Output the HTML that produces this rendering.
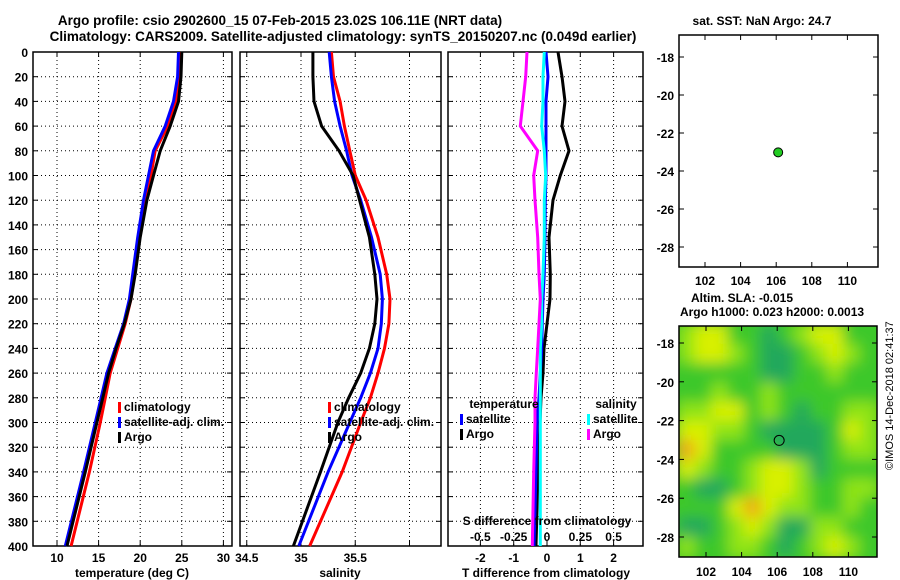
<!DOCTYPE html>
<html><head><meta charset="utf-8"><style>
body{margin:0;background:#fff}
svg{display:block;font-family:"Liberation Sans",sans-serif;font-weight:bold}
</style></head><body>
<svg id="c" width="900" height="580" viewBox="0 0 900 580">
<defs><filter id="bl" x="0" y="0" width="100%" height="100%"><feGaussianBlur stdDeviation="7"/></filter>
<clipPath id="mc"><rect x="679" y="326" width="198" height="231"/></clipPath></defs>
<text x="280" y="25" font-size="13.5" text-anchor="middle">Argo profile: csio 2902600_15 07-Feb-2015 23.02S 106.11E (NRT data)</text>
<text x="343" y="41" font-size="13.5" text-anchor="middle">Climatology: CARS2009. Satellite-adjusted climatology: synTS_20150207.nc (0.049d earlier)</text>
<text x="762" y="25" font-size="12" text-anchor="middle">sat. SST: NaN Argo: 24.7</text>
<text x="742" y="302" font-size="12" text-anchor="middle">Altim. SLA: -0.015</text>
<text x="772" y="316" font-size="12" text-anchor="middle">Argo h1000: 0.023 h2000: 0.0013</text>
<text transform="translate(893,470) rotate(-90)" font-size="11" font-weight="normal">©IMOS 14-Dec-2018 02:41:37</text>
<g id="g"></g>
</svg>
<script>
const depths=[0,20,40,60,80,100,120,150,180,200,220,240,260,280,300,340,400];
const tempClim=[24.8,24.7,24.3,23.3,21.8,21.3,20.6,19.9,19.3,18.9,18.2,17.3,16.4,15.8,15.2,13.9,11.7];
const tempSat=[24.6,24.5,24.0,23.0,21.6,21.0,20.4,19.7,19.1,18.7,18.0,17.0,16.0,15.3,14.6,13.2,11.0];
const tempArgo=[25.0,24.9,24.6,23.6,22.4,21.6,20.8,20.0,19.4,18.9,18.1,17.1,16.2,15.5,14.8,13.4,11.2];
const salClim=[35.28,35.30,35.36,35.40,35.45,35.50,35.60,35.71,35.79,35.82,35.81,35.77,35.71,35.64,35.55,35.38,35.08];
const salSat=[35.26,35.28,35.31,35.36,35.42,35.47,35.55,35.65,35.73,35.75,35.74,35.71,35.64,35.55,35.45,35.25,34.98];
const salArgo=[35.11,35.11,35.12,35.19,35.35,35.48,35.54,35.63,35.68,35.70,35.68,35.63,35.55,35.44,35.34,35.18,34.93];
const tdiffArgo=[0.33,0.45,0.54,0.45,0.66,0.40,0.18,0.06,0.10,0.09,0.0,-0.09,-0.12,-0.18,-0.21,-0.27,-0.33];
const tdiffSat=[-0.03,0.03,-0.03,-0.03,-0.03,-0.03,-0.05,-0.06,-0.08,-0.12,-0.14,-0.16,-0.2,-0.24,-0.3,-0.33,-0.39];
const sdiffArgo=[-0.15,-0.16,-0.18,-0.2,-0.07,-0.10,-0.09,-0.07,-0.06,-0.05,-0.06,-0.07,-0.08,-0.09,-0.09,-0.10,-0.11];
const sdiffSat=[-0.02,-0.03,-0.03,-0.04,-0.02,-0.01,-0.02,-0.02,-0.03,-0.04,-0.04,-0.05,-0.05,-0.05,-0.05,-0.05,-0.05];
const depthTicks=[0,20,40,60,80,100,120,140,160,180,200,220,240,260,280,300,320,340,360,380,400];
const tempTicks=[10,15,20,25,30];
const salTicks=["34.5","35","35.5","36"];
const tdTicks=[-2,-1,0,1,2];
const sdTickLabels=["-0.5","-0.25","0","0.25","0.5"];
const lonTicks=[102,104,106,108,110];
const latTicks=[-18,-20,-22,-24,-26,-28];
const argoLon=106.11, argoLat=-23.02;
const slaGrid=[
[2,3,3,1,1,0,1,2,3,3,1,1],
[2,3,3,2,1,0,0,1,2,3,2,1],
[1,1,1,1,1,0,0,1,1,2,1,1],
[1,1,2,1,1,2,1,1,1,1,1,1],
[2,2,3,3,1,2,1,0,1,1,2,2],
[3,3,2,2,1,0,0,0,0,1,3,2],
[4,3,1,1,1,1,0,0,0,1,2,2],
[3,2,1,1,2,3,3,2,0,1,1,1],
[1,0,0,1,2,3,3,2,1,1,2,2],
[1,1,1,3,4,3,2,2,1,1,2,1],
[0,0,1,2,3,2,0,0,2,2,1,1],
[2,1,1,2,2,1,0,1,2,3,2,1]];
const slaColors=["#22a85c","#3cc82c","#90e414","#d8f000","#f0a818"];

const NS="http://www.w3.org/2000/svg", G=document.getElementById('g');
function el(t,a,p){const e=document.createElementNS(NS,t);for(const k in a)e.setAttribute(k,a[k]);(p||G).appendChild(e);return e;}
function txt(x,y,s,sz,anc){const e=el('text',{x:x,y:y,'font-size':sz||12,'text-anchor':anc||'middle'});e.textContent=s;return e;}
const Y0=52,Y1=546,yD=d=>Y0+d/400*(Y1-Y0);

function panel(x0,x1,name){
  const r=el('rect',{x:x0,y:Y0,width:x1-x0,height:Y1-Y0,fill:'none',stroke:'#000','stroke-width':1.5});
  
  
  depthTicks.forEach(d=>{const y=yD(d);
    if(d%20===0&&d>0&&d<400){const l=el('line',{x1:x0,x2:x1,y1:y,y2:y,stroke:'#000','stroke-dasharray':'1,3'});
      
      }
    el('line',{x1:x0,x2:x0+5,y1:y,y2:y,stroke:'#000'});el('line',{x1:x1-5,x2:x1,y1:y,y2:y,stroke:'#000'});
  });
}
function vgrid(x0,x1,xs){xs.forEach(x=>{const l=el('line',{x1:x,x2:x,y1:Y0,y2:Y1,stroke:'#000','stroke-dasharray':'1,3'});
  
  
  el('line',{x1:x,x2:x,y1:Y1,y2:Y1-5,stroke:'#000'});el('line',{x1:x,x2:x,y1:Y0,y2:Y0+5,stroke:'#000'});});}
function line(vals,fx,col,name,w){const p=el('polyline',{points:vals.map((v,i)=>fx(v).toFixed(1)+','+yD(depths[i]).toFixed(1)).join(' '),fill:'none',stroke:col,'stroke-width':w||3});
  
  }
function leg(x,y,col,s,name){const r=el('rect',{x:x,y:y-9,width:3,height:11,fill:col});
  
  
  txt(x+6,y,s,12,'start');}

// Panel 1 temperature
const xT=t=>57+(t-10)*8.32;
panel(33,232,'temperature-panel');
vgrid(33,232,tempTicks.map(xT));
depthTicks.forEach(d=>txt(28,yD(d)+5,String(d),12,'end'));
tempTicks.forEach(t=>txt(xT(t),562,String(t)));
txt(132,577,'temperature (deg C)');
line(tempClim,xT,'#f00','temp-climatology-line');
line(tempSat,xT,'#00f','temp-satellite-line');
line(tempArgo,xT,'#000','temp-argo-line');
leg(118,411,'#f00','climatology','legend-climatology');
leg(118,426,'#00f','satellite-adj. clim.','legend-satellite');
leg(118,441,'#000','Argo','legend-argo');

// Panel 2 salinity
const xS=s=>301+(s-35)*108.5;
panel(240,441,'salinity-panel');
vgrid(240,441,salTicks.map(s=>xS(+s)));
salTicks.slice(0,3).forEach(s=>txt(xS(+s),562,s));
txt(340,577,'salinity');
line(salClim,xS,'#f00','sal-climatology-line');
line(salSat,xS,'#00f','sal-satellite-line');
line(salArgo,xS,'#000','sal-argo-line');
leg(328,411,'#f00','climatology','legend-climatology-2');
leg(328,426,'#00f','satellite-adj. clim.','legend-satellite-2');
leg(328,441,'#000','Argo','legend-argo-2');

// Panel 3 differences
const xTD=d=>547+d*33.3, xSD=d=>547+d*133.3;
panel(448,643,'difference-panel');
vgrid(448,643,tdTicks.map(xTD));
tdTicks.forEach(t=>txt(xTD(t),562,String(t)));
txt(546,577,'T difference from climatology');
line(tdiffArgo,xTD,'#000','tdiff-argo-line');
line(tdiffSat,xTD,'#00f','tdiff-satellite-line');
line(sdiffSat,xSD,'#0ff','sdiff-satellite-line');
line(sdiffArgo,xSD,'#f0f','sdiff-argo-line');
txt(504,408,'temperature',12);
leg(460,423,'#00f','satellite','legend-tdiff-satellite');
leg(460,438,'#000','Argo','legend-tdiff-argo');
txt(616,408,'salinity',12);
leg(587,423,'#0ff','satellite','legend-sdiff-satellite');
leg(587,438,'#f0f','Argo','legend-sdiff-argo');
txt(547,525,'S difference from climatology',12);
sdTickLabels.forEach((s,i)=>txt(xSD(+s),541,s,12));

// Top map
const lx1=l=>705+(l-102)*17.8, ly1=l=>247+(-28-l)*19;
const m1=el('rect',{x:679,y:35,width:199,height:232,fill:'#fff',stroke:'#000','stroke-width':1.5});


lonTicks.forEach(l=>{el('line',{x1:lx1(l),x2:lx1(l),y1:267,y2:262,stroke:'#000'});el('line',{x1:lx1(l),x2:lx1(l),y1:35,y2:40,stroke:'#000'});txt(lx1(l),285,String(l),12);});
latTicks.forEach(l=>{el('line',{x1:679,x2:684,y1:ly1(l),y2:ly1(l),stroke:'#000'});el('line',{x1:878,x2:873,y1:ly1(l),y2:ly1(l),stroke:'#000'});txt(674,ly1(l)+5,String(l),12,'end');});
const dot=el('circle',{cx:lx1(argoLon),cy:ly1(argoLat),r:4.5,fill:'#22cc22',stroke:'#000','stroke-width':1});



// Bottom map
const lx2=l=>706+(l-102)*17.8, ly2=l=>343+(-18-l)*19.4;
const lon0=100.5,lat0=-17.1,dLon=11.1/12,dLat=11.9/12;
const hg=el('g',{'clip-path':'url(#mc)'});
const hi=el('g',{filter:'url(#bl)'},hg);
el('rect',{x:660,y:300,width:240,height:280,fill:slaColors[1]},hi);
slaGrid.forEach((row,r)=>row.forEach((v,c)=>{
  const x0=lx2(lon0+c*dLon), y0=ly2(lat0-r*dLat);
  const cell=el('rect',{x:x0-1,y:y0-1,width:lx2(lon0+(c+1)*dLon)-x0+2,height:ly2(lat0-(r+1)*dLat)-y0+2,fill:slaColors[v]},hi);
  
  
}));
const m2=el('rect',{x:679,y:326,width:198,height:231,fill:'none',stroke:'#000','stroke-width':1.5});


lonTicks.forEach(l=>{el('line',{x1:lx2(l),x2:lx2(l),y1:557,y2:552,stroke:'#000'});el('line',{x1:lx2(l),x2:lx2(l),y1:326,y2:331,stroke:'#000'});txt(lx2(l),576,String(l),12);});
latTicks.forEach(l=>{el('line',{x1:679,x2:684,y1:ly2(l),y2:ly2(l),stroke:'#000'});el('line',{x1:877,x2:872,y1:ly2(l),y2:ly2(l),stroke:'#000'});txt(674,ly2(l)+5,String(l),12,'end');});
const dot2=el('circle',{cx:lx2(argoLon),cy:ly2(argoLat),r:5,fill:'none',stroke:'#000','stroke-width':1});


</script>
</body></html>
